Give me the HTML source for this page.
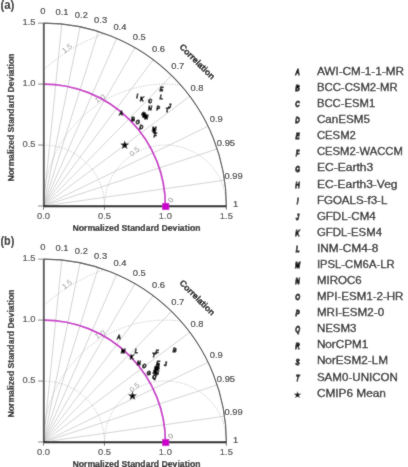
<!DOCTYPE html>
<html><head><meta charset="utf-8"><style>
html,body{margin:0;padding:0;background:#fff;}
svg{display:block;font-family:"Liberation Sans",sans-serif;}
</style></head><body>
<svg width="408" height="467" viewBox="0 0 408 467">
<defs><filter id="soft" x="0" y="0" width="408" height="467" filterUnits="userSpaceOnUse"><feConvolveMatrix order="3" kernelMatrix="1 2 1 2 20 2 1 2 1" divisor="32" edgeMode="duplicate"/></filter></defs>
<g filter="url(#soft)">
<rect width="408" height="467" fill="#fff"/>
<line x1="43.50" y1="206.00" x2="61.79" y2="24.07" stroke="#c0c0c0" stroke-width="0.7"/>
<line x1="43.50" y1="206.00" x2="80.07" y2="26.84" stroke="#c0c0c0" stroke-width="0.7"/>
<line x1="43.50" y1="206.00" x2="98.35" y2="31.57" stroke="#c0c0c0" stroke-width="0.7"/>
<line x1="43.50" y1="206.00" x2="116.64" y2="38.42" stroke="#c0c0c0" stroke-width="0.7"/>
<line x1="43.50" y1="206.00" x2="134.93" y2="47.65" stroke="#c0c0c0" stroke-width="0.7"/>
<line x1="43.50" y1="206.00" x2="153.21" y2="59.72" stroke="#c0c0c0" stroke-width="0.7"/>
<line x1="43.50" y1="206.00" x2="171.50" y2="75.42" stroke="#c0c0c0" stroke-width="0.7"/>
<line x1="43.50" y1="206.00" x2="189.78" y2="96.29" stroke="#c0c0c0" stroke-width="0.7"/>
<line x1="43.50" y1="206.00" x2="208.07" y2="126.30" stroke="#c0c0c0" stroke-width="0.7"/>
<line x1="43.50" y1="206.00" x2="217.21" y2="148.91" stroke="#c0c0c0" stroke-width="0.7"/>
<line x1="43.50" y1="206.00" x2="224.52" y2="180.21" stroke="#c0c0c0" stroke-width="0.7"/>
<path d="M 43.50 145.05 A 60.95 60.95 0 0 1 104.45 206.00" fill="none" stroke="#b0b0b0" stroke-width="0.7" stroke-dasharray="1.3,1.3"/>
<path d="M 104.45 206.00 A 60.95 60.95 0 0 1 226.35 206.00" fill="none" stroke="#b0b0b0" stroke-width="0.7" stroke-dasharray="1.3,1.3"/>
<path d="M 43.50 206.00 A 121.90 121.90 0 0 1 180.64 85.06" fill="none" stroke="#b0b0b0" stroke-width="0.7" stroke-dasharray="1.3,1.3"/>
<path d="M 43.50 69.72 A 182.85 182.85 0 0 1 104.45 33.61" fill="none" stroke="#b0b0b0" stroke-width="0.7" stroke-dasharray="1.3,1.3"/>
<text x="134.50" y="151.40" font-size="7.5" fill="#999" text-anchor="middle" dominant-baseline="central" transform="rotate(-42 134.50 151.40)">0.5</text>
<text x="100.00" y="98.60" font-size="7.5" fill="#999" text-anchor="middle" dominant-baseline="central" transform="rotate(-30 100.00 98.60)">1.0</text>
<text x="67.00" y="48.30" font-size="7.5" fill="#999" text-anchor="middle" dominant-baseline="central" transform="rotate(-38 67.00 48.30)">1.5</text>
<text x="170.80" y="200.00" font-size="7.5" fill="#888" text-anchor="middle" dominant-baseline="central" transform="rotate(-50 170.80 200.00)">0</text>
<path d="M 43.50 84.10 A 121.90 121.90 0 0 1 165.40 206.00" fill="none" stroke="#c626c6" stroke-width="1.75"/>
<path d="M 43.50 23.15 A 182.85 182.85 0 0 1 226.35 206.00" fill="none" stroke="#383838" stroke-width="1.1"/>
<line x1="43.80" y1="23.15" x2="43.80" y2="206.00" stroke="#484848" stroke-width="1.9"/>
<line x1="43.50" y1="206.20" x2="226.35" y2="206.20" stroke="#000" stroke-width="2.1"/>
<line x1="43.50" y1="206.00" x2="43.50" y2="209.60" stroke="#444" stroke-width="0.9"/>
<text x="43.50" y="215.90" font-size="9" fill="#333" text-anchor="middle" dominant-baseline="central" textLength="13.04" lengthAdjust="spacingAndGlyphs" stroke="#333" stroke-width="0.12">0.0</text>
<line x1="43.50" y1="206.00" x2="38.00" y2="206.00" stroke="#666" stroke-width="0.8"/>
<line x1="104.45" y1="206.00" x2="104.45" y2="209.60" stroke="#444" stroke-width="0.9"/>
<text x="104.45" y="215.90" font-size="9" fill="#333" text-anchor="middle" dominant-baseline="central" textLength="13.04" lengthAdjust="spacingAndGlyphs" stroke="#333" stroke-width="0.12">0.5</text>
<line x1="43.50" y1="145.05" x2="38.00" y2="145.05" stroke="#666" stroke-width="0.8"/>
<text x="29.00" y="144.35" font-size="9" fill="#333" text-anchor="middle" dominant-baseline="central" textLength="13.04" lengthAdjust="spacingAndGlyphs" stroke="#333" stroke-width="0.12">0.5</text>
<line x1="165.40" y1="206.00" x2="165.40" y2="209.60" stroke="#444" stroke-width="0.9"/>
<text x="165.40" y="215.90" font-size="9" fill="#333" text-anchor="middle" dominant-baseline="central" textLength="13.04" lengthAdjust="spacingAndGlyphs" stroke="#333" stroke-width="0.12">1.0</text>
<line x1="43.50" y1="84.10" x2="38.00" y2="84.10" stroke="#666" stroke-width="0.8"/>
<text x="29.00" y="83.40" font-size="9" fill="#333" text-anchor="middle" dominant-baseline="central" textLength="13.04" lengthAdjust="spacingAndGlyphs" stroke="#333" stroke-width="0.12">1.0</text>
<line x1="226.35" y1="206.00" x2="226.35" y2="209.60" stroke="#444" stroke-width="0.9"/>
<text x="226.35" y="215.90" font-size="9" fill="#333" text-anchor="middle" dominant-baseline="central" textLength="13.04" lengthAdjust="spacingAndGlyphs" stroke="#333" stroke-width="0.12">1.5</text>
<line x1="43.50" y1="23.15" x2="38.00" y2="23.15" stroke="#666" stroke-width="0.8"/>
<text x="29.00" y="22.45" font-size="9" fill="#333" text-anchor="middle" dominant-baseline="central" textLength="13.04" lengthAdjust="spacingAndGlyphs" stroke="#333" stroke-width="0.12">1.5</text>
<text x="42.80" y="10.70" font-size="9" fill="#111" text-anchor="middle" dominant-baseline="central" textLength="5.22" lengthAdjust="spacingAndGlyphs" stroke="#333" stroke-width="0.12">0</text>
<text x="62.08" y="11.67" font-size="9" fill="#111" text-anchor="middle" dominant-baseline="central" textLength="13.04" lengthAdjust="spacingAndGlyphs" stroke="#333" stroke-width="0.12">0.1</text>
<text x="81.36" y="14.60" font-size="9" fill="#111" text-anchor="middle" dominant-baseline="central" textLength="13.04" lengthAdjust="spacingAndGlyphs" stroke="#333" stroke-width="0.12">0.2</text>
<text x="100.64" y="19.58" font-size="9" fill="#111" text-anchor="middle" dominant-baseline="central" textLength="13.04" lengthAdjust="spacingAndGlyphs" stroke="#333" stroke-width="0.12">0.3</text>
<text x="119.92" y="26.80" font-size="9" fill="#111" text-anchor="middle" dominant-baseline="central" textLength="13.04" lengthAdjust="spacingAndGlyphs" stroke="#333" stroke-width="0.12">0.4</text>
<text x="139.20" y="36.53" font-size="9" fill="#111" text-anchor="middle" dominant-baseline="central" textLength="13.04" lengthAdjust="spacingAndGlyphs" stroke="#333" stroke-width="0.12">0.5</text>
<text x="158.48" y="49.26" font-size="9" fill="#111" text-anchor="middle" dominant-baseline="central" textLength="13.04" lengthAdjust="spacingAndGlyphs" stroke="#333" stroke-width="0.12">0.6</text>
<text x="177.76" y="65.81" font-size="9" fill="#111" text-anchor="middle" dominant-baseline="central" textLength="13.04" lengthAdjust="spacingAndGlyphs" stroke="#333" stroke-width="0.12">0.7</text>
<text x="197.04" y="87.82" font-size="9" fill="#111" text-anchor="middle" dominant-baseline="central" textLength="13.04" lengthAdjust="spacingAndGlyphs" stroke="#333" stroke-width="0.12">0.8</text>
<text x="216.32" y="119.46" font-size="9" fill="#111" text-anchor="middle" dominant-baseline="central" textLength="13.04" lengthAdjust="spacingAndGlyphs" stroke="#333" stroke-width="0.12">0.9</text>
<text x="225.96" y="143.30" font-size="9" fill="#111" text-anchor="middle" dominant-baseline="central" textLength="18.26" lengthAdjust="spacingAndGlyphs" stroke="#333" stroke-width="0.12">0.95</text>
<text x="233.67" y="176.30" font-size="9" fill="#111" text-anchor="middle" dominant-baseline="central" textLength="18.26" lengthAdjust="spacingAndGlyphs" stroke="#333" stroke-width="0.12">0.99</text>
<text x="235.60" y="203.50" font-size="9" fill="#111" text-anchor="middle" dominant-baseline="central" textLength="5.22" lengthAdjust="spacingAndGlyphs" stroke="#333" stroke-width="0.12">1</text>
<text x="197.30" y="61.65" font-size="8.8" font-weight="bold" fill="#000" text-anchor="middle" dominant-baseline="central" textLength="46.00" lengthAdjust="spacingAndGlyphs" transform="rotate(45 197.30 61.65)" stroke="#000" stroke-width="0.25">Correlation</text>
<text x="136.50" y="227.80" font-size="9.5" font-weight="bold" fill="#111" text-anchor="middle" dominant-baseline="central" textLength="128.00" lengthAdjust="spacingAndGlyphs" stroke="#111" stroke-width="0.2">Normalized Standard Deviation</text>
<text x="10.60" y="117.50" font-size="9.5" font-weight="bold" fill="#111" text-anchor="middle" dominant-baseline="central" textLength="128.00" lengthAdjust="spacingAndGlyphs" transform="rotate(-90 10.60 117.50)" stroke="#111" stroke-width="0.2">Normalized Standard Deviation</text>
<text x="0.5" y="5.40" font-size="12" font-weight="bold" fill="#000" dominant-baseline="central" textLength="13.9" lengthAdjust="spacingAndGlyphs">(a)</text>
<rect x="162.10" y="202.90" width="7.2" height="7.2" fill="#cc00cc"/>
<text transform="translate(161.40 89.10) scale(0.8 0.95)" font-size="6.3" font-weight="bold" font-style="italic" fill="#000" stroke="#000" stroke-width="1.0" text-anchor="middle" dominant-baseline="central">E</text>
<text transform="translate(161.40 96.50) scale(0.8 0.95)" font-size="6.3" font-weight="bold" font-style="italic" fill="#000" stroke="#000" stroke-width="1.0" text-anchor="middle" dominant-baseline="central">L</text>
<text transform="translate(137.30 95.40) scale(0.8 0.95)" font-size="6.3" font-weight="bold" font-style="italic" fill="#000" stroke="#000" stroke-width="1.0" text-anchor="middle" dominant-baseline="central">I</text>
<text transform="translate(141.70 99.10) scale(0.8 0.95)" font-size="6.3" font-weight="bold" font-style="italic" fill="#000" stroke="#000" stroke-width="1.0" text-anchor="middle" dominant-baseline="central">K</text>
<text transform="translate(150.10 100.60) scale(0.8 0.95)" font-size="6.3" font-weight="bold" font-style="italic" fill="#000" stroke="#000" stroke-width="1.0" text-anchor="middle" dominant-baseline="central">C</text>
<text transform="translate(169.60 106.20) scale(0.8 0.95)" font-size="6.3" font-weight="bold" font-style="italic" fill="#000" stroke="#000" stroke-width="1.0" text-anchor="middle" dominant-baseline="central">J</text>
<text transform="translate(167.30 109.90) scale(0.8 0.95)" font-size="6.3" font-weight="bold" font-style="italic" fill="#000" stroke="#000" stroke-width="1.0" text-anchor="middle" dominant-baseline="central">T</text>
<text transform="translate(150.10 108.20) scale(0.8 0.95)" font-size="6.3" font-weight="bold" font-style="italic" fill="#000" stroke="#000" stroke-width="1.0" text-anchor="middle" dominant-baseline="central">H</text>
<text transform="translate(158.10 107.90) scale(0.8 0.95)" font-size="6.3" font-weight="bold" font-style="italic" fill="#000" stroke="#000" stroke-width="1.0" text-anchor="middle" dominant-baseline="central">P</text>
<text transform="translate(121.10 113.10) scale(0.8 0.95)" font-size="6.3" font-weight="bold" font-style="italic" fill="#000" stroke="#000" stroke-width="1.0" text-anchor="middle" dominant-baseline="central">A</text>
<text transform="translate(143.40 113.50) scale(0.8 0.95)" font-size="6.3" font-weight="bold" font-style="italic" fill="#000" stroke="#000" stroke-width="1.0" text-anchor="middle" dominant-baseline="central">G</text>
<text transform="translate(146.40 116.80) scale(0.8 0.95)" font-size="6.3" font-weight="bold" font-style="italic" fill="#000" stroke="#000" stroke-width="1.0" text-anchor="middle" dominant-baseline="central">N</text>
<text transform="translate(133.10 119.00) scale(0.8 0.95)" font-size="6.3" font-weight="bold" font-style="italic" fill="#000" stroke="#000" stroke-width="1.0" text-anchor="middle" dominant-baseline="central">B</text>
<text transform="translate(137.60 121.90) scale(0.8 0.95)" font-size="6.3" font-weight="bold" font-style="italic" fill="#000" stroke="#000" stroke-width="1.0" text-anchor="middle" dominant-baseline="central">O</text>
<text transform="translate(141.20 127.10) scale(0.8 0.95)" font-size="6.3" font-weight="bold" font-style="italic" fill="#000" stroke="#000" stroke-width="1.0" text-anchor="middle" dominant-baseline="central">D</text>
<text transform="translate(154.00 129.30) scale(0.8 0.95)" font-size="6.3" font-weight="bold" font-style="italic" fill="#000" stroke="#000" stroke-width="1.0" text-anchor="middle" dominant-baseline="central">M</text>
<text transform="translate(155.20 135.10) scale(0.8 0.95)" font-size="6.3" font-weight="bold" font-style="italic" fill="#000" stroke="#000" stroke-width="1.0" text-anchor="middle" dominant-baseline="central">F</text>
<text transform="translate(145.00 115.50) scale(0.8 0.95)" font-size="6.3" font-weight="bold" font-style="italic" fill="#000" stroke="#000" stroke-width="1.0" text-anchor="middle" dominant-baseline="central">Q</text>
<text transform="translate(144.00 114.50) scale(0.8 0.95)" font-size="6.3" font-weight="bold" font-style="italic" fill="#000" stroke="#000" stroke-width="1.0" text-anchor="middle" dominant-baseline="central">R</text>
<text transform="translate(154.50 131.00) scale(0.8 0.95)" font-size="6.3" font-weight="bold" font-style="italic" fill="#000" stroke="#000" stroke-width="1.0" text-anchor="middle" dominant-baseline="central">S</text>
<polygon points="124.70,140.50 125.85,143.62 129.17,143.75 126.55,145.80 127.46,149.00 124.70,147.15 121.94,149.00 122.85,145.80 120.23,143.75 123.55,143.62" fill="#000"/>
<line x1="43.50" y1="442.00" x2="61.79" y2="260.07" stroke="#c0c0c0" stroke-width="0.7"/>
<line x1="43.50" y1="442.00" x2="80.07" y2="262.84" stroke="#c0c0c0" stroke-width="0.7"/>
<line x1="43.50" y1="442.00" x2="98.35" y2="267.57" stroke="#c0c0c0" stroke-width="0.7"/>
<line x1="43.50" y1="442.00" x2="116.64" y2="274.42" stroke="#c0c0c0" stroke-width="0.7"/>
<line x1="43.50" y1="442.00" x2="134.93" y2="283.65" stroke="#c0c0c0" stroke-width="0.7"/>
<line x1="43.50" y1="442.00" x2="153.21" y2="295.72" stroke="#c0c0c0" stroke-width="0.7"/>
<line x1="43.50" y1="442.00" x2="171.50" y2="311.42" stroke="#c0c0c0" stroke-width="0.7"/>
<line x1="43.50" y1="442.00" x2="189.78" y2="332.29" stroke="#c0c0c0" stroke-width="0.7"/>
<line x1="43.50" y1="442.00" x2="208.07" y2="362.30" stroke="#c0c0c0" stroke-width="0.7"/>
<line x1="43.50" y1="442.00" x2="217.21" y2="384.91" stroke="#c0c0c0" stroke-width="0.7"/>
<line x1="43.50" y1="442.00" x2="224.52" y2="416.21" stroke="#c0c0c0" stroke-width="0.7"/>
<path d="M 43.50 381.05 A 60.95 60.95 0 0 1 104.45 442.00" fill="none" stroke="#b0b0b0" stroke-width="0.7" stroke-dasharray="1.3,1.3"/>
<path d="M 104.45 442.00 A 60.95 60.95 0 0 1 226.35 442.00" fill="none" stroke="#b0b0b0" stroke-width="0.7" stroke-dasharray="1.3,1.3"/>
<path d="M 43.50 442.00 A 121.90 121.90 0 0 1 180.64 321.06" fill="none" stroke="#b0b0b0" stroke-width="0.7" stroke-dasharray="1.3,1.3"/>
<path d="M 43.50 305.72 A 182.85 182.85 0 0 1 104.45 269.61" fill="none" stroke="#b0b0b0" stroke-width="0.7" stroke-dasharray="1.3,1.3"/>
<text x="134.50" y="387.40" font-size="7.5" fill="#999" text-anchor="middle" dominant-baseline="central" transform="rotate(-42 134.50 387.40)">0.5</text>
<text x="100.00" y="334.60" font-size="7.5" fill="#999" text-anchor="middle" dominant-baseline="central" transform="rotate(-30 100.00 334.60)">1.0</text>
<text x="67.00" y="284.30" font-size="7.5" fill="#999" text-anchor="middle" dominant-baseline="central" transform="rotate(-38 67.00 284.30)">1.5</text>
<text x="170.80" y="436.00" font-size="7.5" fill="#888" text-anchor="middle" dominant-baseline="central" transform="rotate(-50 170.80 436.00)">0</text>
<path d="M 43.50 320.10 A 121.90 121.90 0 0 1 165.40 442.00" fill="none" stroke="#c626c6" stroke-width="1.75"/>
<path d="M 43.50 259.15 A 182.85 182.85 0 0 1 226.35 442.00" fill="none" stroke="#383838" stroke-width="1.1"/>
<line x1="43.80" y1="259.15" x2="43.80" y2="442.00" stroke="#484848" stroke-width="1.9"/>
<line x1="43.50" y1="442.20" x2="226.35" y2="442.20" stroke="#000" stroke-width="2.1"/>
<line x1="43.50" y1="442.00" x2="43.50" y2="445.60" stroke="#444" stroke-width="0.9"/>
<text x="43.50" y="451.90" font-size="9" fill="#333" text-anchor="middle" dominant-baseline="central" textLength="13.04" lengthAdjust="spacingAndGlyphs" stroke="#333" stroke-width="0.12">0.0</text>
<line x1="43.50" y1="442.00" x2="38.00" y2="442.00" stroke="#666" stroke-width="0.8"/>
<line x1="104.45" y1="442.00" x2="104.45" y2="445.60" stroke="#444" stroke-width="0.9"/>
<text x="104.45" y="451.90" font-size="9" fill="#333" text-anchor="middle" dominant-baseline="central" textLength="13.04" lengthAdjust="spacingAndGlyphs" stroke="#333" stroke-width="0.12">0.5</text>
<line x1="43.50" y1="381.05" x2="38.00" y2="381.05" stroke="#666" stroke-width="0.8"/>
<text x="29.00" y="380.35" font-size="9" fill="#333" text-anchor="middle" dominant-baseline="central" textLength="13.04" lengthAdjust="spacingAndGlyphs" stroke="#333" stroke-width="0.12">0.5</text>
<line x1="165.40" y1="442.00" x2="165.40" y2="445.60" stroke="#444" stroke-width="0.9"/>
<text x="165.40" y="451.90" font-size="9" fill="#333" text-anchor="middle" dominant-baseline="central" textLength="13.04" lengthAdjust="spacingAndGlyphs" stroke="#333" stroke-width="0.12">1.0</text>
<line x1="43.50" y1="320.10" x2="38.00" y2="320.10" stroke="#666" stroke-width="0.8"/>
<text x="29.00" y="319.40" font-size="9" fill="#333" text-anchor="middle" dominant-baseline="central" textLength="13.04" lengthAdjust="spacingAndGlyphs" stroke="#333" stroke-width="0.12">1.0</text>
<line x1="226.35" y1="442.00" x2="226.35" y2="445.60" stroke="#444" stroke-width="0.9"/>
<text x="226.35" y="451.90" font-size="9" fill="#333" text-anchor="middle" dominant-baseline="central" textLength="13.04" lengthAdjust="spacingAndGlyphs" stroke="#333" stroke-width="0.12">1.5</text>
<line x1="43.50" y1="259.15" x2="38.00" y2="259.15" stroke="#666" stroke-width="0.8"/>
<text x="29.00" y="258.45" font-size="9" fill="#333" text-anchor="middle" dominant-baseline="central" textLength="13.04" lengthAdjust="spacingAndGlyphs" stroke="#333" stroke-width="0.12">1.5</text>
<text x="42.80" y="246.70" font-size="9" fill="#111" text-anchor="middle" dominant-baseline="central" textLength="5.22" lengthAdjust="spacingAndGlyphs" stroke="#333" stroke-width="0.12">0</text>
<text x="62.08" y="247.67" font-size="9" fill="#111" text-anchor="middle" dominant-baseline="central" textLength="13.04" lengthAdjust="spacingAndGlyphs" stroke="#333" stroke-width="0.12">0.1</text>
<text x="81.36" y="250.60" font-size="9" fill="#111" text-anchor="middle" dominant-baseline="central" textLength="13.04" lengthAdjust="spacingAndGlyphs" stroke="#333" stroke-width="0.12">0.2</text>
<text x="100.64" y="255.58" font-size="9" fill="#111" text-anchor="middle" dominant-baseline="central" textLength="13.04" lengthAdjust="spacingAndGlyphs" stroke="#333" stroke-width="0.12">0.3</text>
<text x="119.92" y="262.80" font-size="9" fill="#111" text-anchor="middle" dominant-baseline="central" textLength="13.04" lengthAdjust="spacingAndGlyphs" stroke="#333" stroke-width="0.12">0.4</text>
<text x="139.20" y="272.53" font-size="9" fill="#111" text-anchor="middle" dominant-baseline="central" textLength="13.04" lengthAdjust="spacingAndGlyphs" stroke="#333" stroke-width="0.12">0.5</text>
<text x="158.48" y="285.26" font-size="9" fill="#111" text-anchor="middle" dominant-baseline="central" textLength="13.04" lengthAdjust="spacingAndGlyphs" stroke="#333" stroke-width="0.12">0.6</text>
<text x="177.76" y="301.81" font-size="9" fill="#111" text-anchor="middle" dominant-baseline="central" textLength="13.04" lengthAdjust="spacingAndGlyphs" stroke="#333" stroke-width="0.12">0.7</text>
<text x="197.04" y="323.82" font-size="9" fill="#111" text-anchor="middle" dominant-baseline="central" textLength="13.04" lengthAdjust="spacingAndGlyphs" stroke="#333" stroke-width="0.12">0.8</text>
<text x="216.32" y="355.46" font-size="9" fill="#111" text-anchor="middle" dominant-baseline="central" textLength="13.04" lengthAdjust="spacingAndGlyphs" stroke="#333" stroke-width="0.12">0.9</text>
<text x="225.96" y="379.30" font-size="9" fill="#111" text-anchor="middle" dominant-baseline="central" textLength="18.26" lengthAdjust="spacingAndGlyphs" stroke="#333" stroke-width="0.12">0.95</text>
<text x="233.67" y="412.30" font-size="9" fill="#111" text-anchor="middle" dominant-baseline="central" textLength="18.26" lengthAdjust="spacingAndGlyphs" stroke="#333" stroke-width="0.12">0.99</text>
<text x="235.60" y="439.50" font-size="9" fill="#111" text-anchor="middle" dominant-baseline="central" textLength="5.22" lengthAdjust="spacingAndGlyphs" stroke="#333" stroke-width="0.12">1</text>
<text x="197.30" y="297.65" font-size="8.8" font-weight="bold" fill="#000" text-anchor="middle" dominant-baseline="central" textLength="46.00" lengthAdjust="spacingAndGlyphs" transform="rotate(45 197.30 297.65)" stroke="#000" stroke-width="0.25">Correlation</text>
<text x="136.50" y="463.80" font-size="9.5" font-weight="bold" fill="#111" text-anchor="middle" dominant-baseline="central" textLength="128.00" lengthAdjust="spacingAndGlyphs" stroke="#111" stroke-width="0.2">Normalized Standard Deviation</text>
<text x="10.60" y="353.50" font-size="9.5" font-weight="bold" fill="#111" text-anchor="middle" dominant-baseline="central" textLength="128.00" lengthAdjust="spacingAndGlyphs" transform="rotate(-90 10.60 353.50)" stroke="#111" stroke-width="0.2">Normalized Standard Deviation</text>
<text x="0.5" y="241.40" font-size="12" font-weight="bold" fill="#000" dominant-baseline="central" textLength="13.9" lengthAdjust="spacingAndGlyphs">(b)</text>
<rect x="162.10" y="438.90" width="7.2" height="7.2" fill="#cc00cc"/>
<text transform="translate(118.70 337.30) scale(0.8 0.95)" font-size="6.3" font-weight="bold" font-style="italic" fill="#000" stroke="#000" stroke-width="1.0" text-anchor="middle" dominant-baseline="central">A</text>
<text transform="translate(123.20 350.40) scale(0.8 0.95)" font-size="6.3" font-weight="bold" font-style="italic" fill="#000" stroke="#000" stroke-width="1.0" text-anchor="middle" dominant-baseline="central">M</text>
<text transform="translate(136.40 350.80) scale(0.8 0.95)" font-size="6.3" font-weight="bold" font-style="italic" fill="#000" stroke="#000" stroke-width="1.0" text-anchor="middle" dominant-baseline="central">L</text>
<text transform="translate(131.70 356.70) scale(0.8 0.95)" font-size="6.3" font-weight="bold" font-style="italic" fill="#000" stroke="#000" stroke-width="1.0" text-anchor="middle" dominant-baseline="central">K</text>
<text transform="translate(157.00 351.60) scale(0.8 0.95)" font-size="6.3" font-weight="bold" font-style="italic" fill="#000" stroke="#000" stroke-width="1.0" text-anchor="middle" dominant-baseline="central">F</text>
<text transform="translate(153.70 354.90) scale(0.8 0.95)" font-size="6.3" font-weight="bold" font-style="italic" fill="#000" stroke="#000" stroke-width="1.0" text-anchor="middle" dominant-baseline="central">T</text>
<text transform="translate(174.60 349.90) scale(0.8 0.95)" font-size="6.3" font-weight="bold" font-style="italic" fill="#000" stroke="#000" stroke-width="1.0" text-anchor="middle" dominant-baseline="central">B</text>
<text transform="translate(138.80 362.60) scale(0.8 0.95)" font-size="6.3" font-weight="bold" font-style="italic" fill="#000" stroke="#000" stroke-width="1.0" text-anchor="middle" dominant-baseline="central">H</text>
<text transform="translate(144.30 365.90) scale(0.8 0.95)" font-size="6.3" font-weight="bold" font-style="italic" fill="#000" stroke="#000" stroke-width="1.0" text-anchor="middle" dominant-baseline="central">O</text>
<text transform="translate(158.10 363.20) scale(0.8 0.95)" font-size="6.3" font-weight="bold" font-style="italic" fill="#000" stroke="#000" stroke-width="1.0" text-anchor="middle" dominant-baseline="central">E</text>
<text transform="translate(165.30 363.70) scale(0.8 0.95)" font-size="6.3" font-weight="bold" font-style="italic" fill="#000" stroke="#000" stroke-width="1.0" text-anchor="middle" dominant-baseline="central">J</text>
<text transform="translate(155.90 367.60) scale(0.8 0.95)" font-size="6.3" font-weight="bold" font-style="italic" fill="#000" stroke="#000" stroke-width="1.0" text-anchor="middle" dominant-baseline="central">C</text>
<text transform="translate(148.70 373.10) scale(0.8 0.95)" font-size="6.3" font-weight="bold" font-style="italic" fill="#000" stroke="#000" stroke-width="1.0" text-anchor="middle" dominant-baseline="central">G</text>
<text transform="translate(157.00 374.20) scale(0.8 0.95)" font-size="6.3" font-weight="bold" font-style="italic" fill="#000" stroke="#000" stroke-width="1.0" text-anchor="middle" dominant-baseline="central">P</text>
<text transform="translate(154.20 376.40) scale(0.8 0.95)" font-size="6.3" font-weight="bold" font-style="italic" fill="#000" stroke="#000" stroke-width="1.0" text-anchor="middle" dominant-baseline="central">Q</text>
<text transform="translate(157.50 366.00) scale(0.8 0.95)" font-size="6.3" font-weight="bold" font-style="italic" fill="#000" stroke="#000" stroke-width="1.0" text-anchor="middle" dominant-baseline="central">D</text>
<text transform="translate(155.50 370.00) scale(0.8 0.95)" font-size="6.3" font-weight="bold" font-style="italic" fill="#000" stroke="#000" stroke-width="1.0" text-anchor="middle" dominant-baseline="central">N</text>
<text transform="translate(157.50 369.00) scale(0.8 0.95)" font-size="6.3" font-weight="bold" font-style="italic" fill="#000" stroke="#000" stroke-width="1.0" text-anchor="middle" dominant-baseline="central">R</text>
<text transform="translate(154.50 372.00) scale(0.8 0.95)" font-size="6.3" font-weight="bold" font-style="italic" fill="#000" stroke="#000" stroke-width="1.0" text-anchor="middle" dominant-baseline="central">S</text>
<text transform="translate(156.50 365.00) scale(0.8 0.95)" font-size="6.3" font-weight="bold" font-style="italic" fill="#000" stroke="#000" stroke-width="1.0" text-anchor="middle" dominant-baseline="central">I</text>
<polygon points="132.50,391.30 133.65,394.42 136.97,394.55 134.35,396.60 135.26,399.80 132.50,397.95 129.74,399.80 130.65,396.60 128.03,394.55 131.35,394.42" fill="#000"/>
<text transform="translate(297.60 72.30) scale(0.8 1.12)" font-size="7.8" font-weight="bold" font-style="italic" fill="#000" stroke="#000" stroke-width="0.7" text-anchor="middle" dominant-baseline="central">A</text>
<text x="316.90" y="71.00" font-size="11" fill="#1a1a1a" text-anchor="start" dominant-baseline="central" textLength="87.16" lengthAdjust="spacingAndGlyphs" stroke="#1a1a1a" stroke-width="0.3">AWI-CM-1-1-MR</text>
<text transform="translate(297.60 88.38) scale(0.8 1.12)" font-size="7.8" font-weight="bold" font-style="italic" fill="#000" stroke="#000" stroke-width="0.7" text-anchor="middle" dominant-baseline="central">B</text>
<text x="316.90" y="87.08" font-size="11" fill="#1a1a1a" text-anchor="start" dominant-baseline="central" textLength="80.74" lengthAdjust="spacingAndGlyphs" stroke="#1a1a1a" stroke-width="0.3">BCC-CSM2-MR</text>
<text transform="translate(297.60 104.46) scale(0.8 1.12)" font-size="7.8" font-weight="bold" font-style="italic" fill="#000" stroke="#000" stroke-width="0.7" text-anchor="middle" dominant-baseline="central">C</text>
<text x="316.90" y="103.16" font-size="11" fill="#1a1a1a" text-anchor="start" dominant-baseline="central" textLength="58.41" lengthAdjust="spacingAndGlyphs" stroke="#1a1a1a" stroke-width="0.3">BCC-ESM1</text>
<text transform="translate(297.60 120.54) scale(0.8 1.12)" font-size="7.8" font-weight="bold" font-style="italic" fill="#000" stroke="#000" stroke-width="0.7" text-anchor="middle" dominant-baseline="central">D</text>
<text x="316.90" y="119.24" font-size="11" fill="#1a1a1a" text-anchor="start" dominant-baseline="central" textLength="52.99" lengthAdjust="spacingAndGlyphs" stroke="#1a1a1a" stroke-width="0.3">CanESM5</text>
<text transform="translate(297.60 136.62) scale(0.8 1.12)" font-size="7.8" font-weight="bold" font-style="italic" fill="#000" stroke="#000" stroke-width="0.7" text-anchor="middle" dominant-baseline="central">E</text>
<text x="316.90" y="135.32" font-size="11" fill="#1a1a1a" text-anchor="start" dominant-baseline="central" textLength="38.97" lengthAdjust="spacingAndGlyphs" stroke="#1a1a1a" stroke-width="0.3">CESM2</text>
<text transform="translate(297.60 152.70) scale(0.8 1.12)" font-size="7.8" font-weight="bold" font-style="italic" fill="#000" stroke="#000" stroke-width="0.7" text-anchor="middle" dominant-baseline="central">F</text>
<text x="316.90" y="151.40" font-size="11" fill="#1a1a1a" text-anchor="start" dominant-baseline="central" textLength="86.00" lengthAdjust="spacingAndGlyphs" stroke="#1a1a1a" stroke-width="0.3">CESM2-WACCM</text>
<text transform="translate(297.60 168.78) scale(0.8 1.12)" font-size="7.8" font-weight="bold" font-style="italic" fill="#000" stroke="#000" stroke-width="0.7" text-anchor="middle" dominant-baseline="central">G</text>
<text x="316.90" y="167.48" font-size="11" fill="#1a1a1a" text-anchor="start" dominant-baseline="central" textLength="56.35" lengthAdjust="spacingAndGlyphs" stroke="#1a1a1a" stroke-width="0.3">EC-Earth3</text>
<text transform="translate(297.60 184.86) scale(0.8 1.12)" font-size="7.8" font-weight="bold" font-style="italic" fill="#000" stroke="#000" stroke-width="0.7" text-anchor="middle" dominant-baseline="central">H</text>
<text x="316.90" y="183.56" font-size="11" fill="#1a1a1a" text-anchor="start" dominant-baseline="central" textLength="80.63" lengthAdjust="spacingAndGlyphs" stroke="#1a1a1a" stroke-width="0.3">EC-Earth3-Veg</text>
<text transform="translate(297.60 200.94) scale(0.8 1.12)" font-size="7.8" font-weight="bold" font-style="italic" fill="#000" stroke="#000" stroke-width="0.7" text-anchor="middle" dominant-baseline="central">I</text>
<text x="316.90" y="199.64" font-size="11" fill="#1a1a1a" text-anchor="start" dominant-baseline="central" textLength="70.46" lengthAdjust="spacingAndGlyphs" stroke="#1a1a1a" stroke-width="0.3">FGOALS-f3-L</text>
<text transform="translate(297.60 217.02) scale(0.8 1.12)" font-size="7.8" font-weight="bold" font-style="italic" fill="#000" stroke="#000" stroke-width="0.7" text-anchor="middle" dominant-baseline="central">J</text>
<text x="316.90" y="215.72" font-size="11" fill="#1a1a1a" text-anchor="start" dominant-baseline="central" textLength="58.70" lengthAdjust="spacingAndGlyphs" stroke="#1a1a1a" stroke-width="0.3">GFDL-CM4</text>
<text transform="translate(297.60 233.10) scale(0.8 1.12)" font-size="7.8" font-weight="bold" font-style="italic" fill="#000" stroke="#000" stroke-width="0.7" text-anchor="middle" dominant-baseline="central">K</text>
<text x="316.90" y="231.80" font-size="11" fill="#1a1a1a" text-anchor="start" dominant-baseline="central" textLength="65.10" lengthAdjust="spacingAndGlyphs" stroke="#1a1a1a" stroke-width="0.3">GFDL-ESM4</text>
<text transform="translate(297.60 249.18) scale(0.8 1.12)" font-size="7.8" font-weight="bold" font-style="italic" fill="#000" stroke="#000" stroke-width="0.7" text-anchor="middle" dominant-baseline="central">L</text>
<text x="316.90" y="247.88" font-size="11" fill="#1a1a1a" text-anchor="start" dominant-baseline="central" textLength="61.44" lengthAdjust="spacingAndGlyphs" stroke="#1a1a1a" stroke-width="0.3">INM-CM4-8</text>
<text transform="translate(297.60 265.26) scale(0.8 1.12)" font-size="7.8" font-weight="bold" font-style="italic" fill="#000" stroke="#000" stroke-width="0.7" text-anchor="middle" dominant-baseline="central">M</text>
<text x="316.90" y="263.96" font-size="11" fill="#1a1a1a" text-anchor="start" dominant-baseline="central" textLength="77.69" lengthAdjust="spacingAndGlyphs" stroke="#1a1a1a" stroke-width="0.3">IPSL-CM6A-LR</text>
<text transform="translate(297.60 281.34) scale(0.8 1.12)" font-size="7.8" font-weight="bold" font-style="italic" fill="#000" stroke="#000" stroke-width="0.7" text-anchor="middle" dominant-baseline="central">N</text>
<text x="316.90" y="280.04" font-size="11" fill="#1a1a1a" text-anchor="start" dominant-baseline="central" textLength="44.71" lengthAdjust="spacingAndGlyphs" stroke="#1a1a1a" stroke-width="0.3">MIROC6</text>
<text transform="translate(297.60 297.42) scale(0.8 1.12)" font-size="7.8" font-weight="bold" font-style="italic" fill="#000" stroke="#000" stroke-width="0.7" text-anchor="middle" dominant-baseline="central">O</text>
<text x="316.90" y="296.12" font-size="11" fill="#1a1a1a" text-anchor="start" dominant-baseline="central" textLength="86.54" lengthAdjust="spacingAndGlyphs" stroke="#1a1a1a" stroke-width="0.3">MPI-ESM1-2-HR</text>
<text transform="translate(297.60 313.50) scale(0.8 1.12)" font-size="7.8" font-weight="bold" font-style="italic" fill="#000" stroke="#000" stroke-width="0.7" text-anchor="middle" dominant-baseline="central">P</text>
<text x="316.90" y="312.20" font-size="11" fill="#1a1a1a" text-anchor="start" dominant-baseline="central" textLength="67.23" lengthAdjust="spacingAndGlyphs" stroke="#1a1a1a" stroke-width="0.3">MRI-ESM2-0</text>
<text transform="translate(297.60 329.58) scale(0.8 1.12)" font-size="7.8" font-weight="bold" font-style="italic" fill="#000" stroke="#000" stroke-width="0.7" text-anchor="middle" dominant-baseline="central">Q</text>
<text x="316.90" y="328.28" font-size="11" fill="#1a1a1a" text-anchor="start" dominant-baseline="central" textLength="39.53" lengthAdjust="spacingAndGlyphs" stroke="#1a1a1a" stroke-width="0.3">NESM3</text>
<text transform="translate(297.60 345.66) scale(0.8 1.12)" font-size="7.8" font-weight="bold" font-style="italic" fill="#000" stroke="#000" stroke-width="0.7" text-anchor="middle" dominant-baseline="central">R</text>
<text x="316.90" y="344.36" font-size="11" fill="#1a1a1a" text-anchor="start" dominant-baseline="central" textLength="51.43" lengthAdjust="spacingAndGlyphs" stroke="#1a1a1a" stroke-width="0.3">NorCPM1</text>
<text transform="translate(297.60 361.74) scale(0.8 1.12)" font-size="7.8" font-weight="bold" font-style="italic" fill="#000" stroke="#000" stroke-width="0.7" text-anchor="middle" dominant-baseline="central">S</text>
<text x="316.90" y="360.44" font-size="11" fill="#1a1a1a" text-anchor="start" dominant-baseline="central" textLength="71.07" lengthAdjust="spacingAndGlyphs" stroke="#1a1a1a" stroke-width="0.3">NorESM2-LM</text>
<text transform="translate(297.60 377.82) scale(0.8 1.12)" font-size="7.8" font-weight="bold" font-style="italic" fill="#000" stroke="#000" stroke-width="0.7" text-anchor="middle" dominant-baseline="central">T</text>
<text x="316.90" y="376.52" font-size="11" fill="#1a1a1a" text-anchor="start" dominant-baseline="central" textLength="81.07" lengthAdjust="spacingAndGlyphs" stroke="#1a1a1a" stroke-width="0.3">SAM0-UNICON</text>
<polygon points="297.50,391.20 298.44,393.71 301.11,393.83 299.02,395.49 299.73,398.07 297.50,396.60 295.27,398.07 295.98,395.49 293.89,393.83 296.56,393.71" fill="#000"/>
<text x="316.90" y="392.60" font-size="11" fill="#1a1a1a" text-anchor="start" dominant-baseline="central" textLength="69.05" lengthAdjust="spacingAndGlyphs" stroke="#1a1a1a" stroke-width="0.3">CMIP6 Mean</text>
</g>
</svg>
</body></html>
